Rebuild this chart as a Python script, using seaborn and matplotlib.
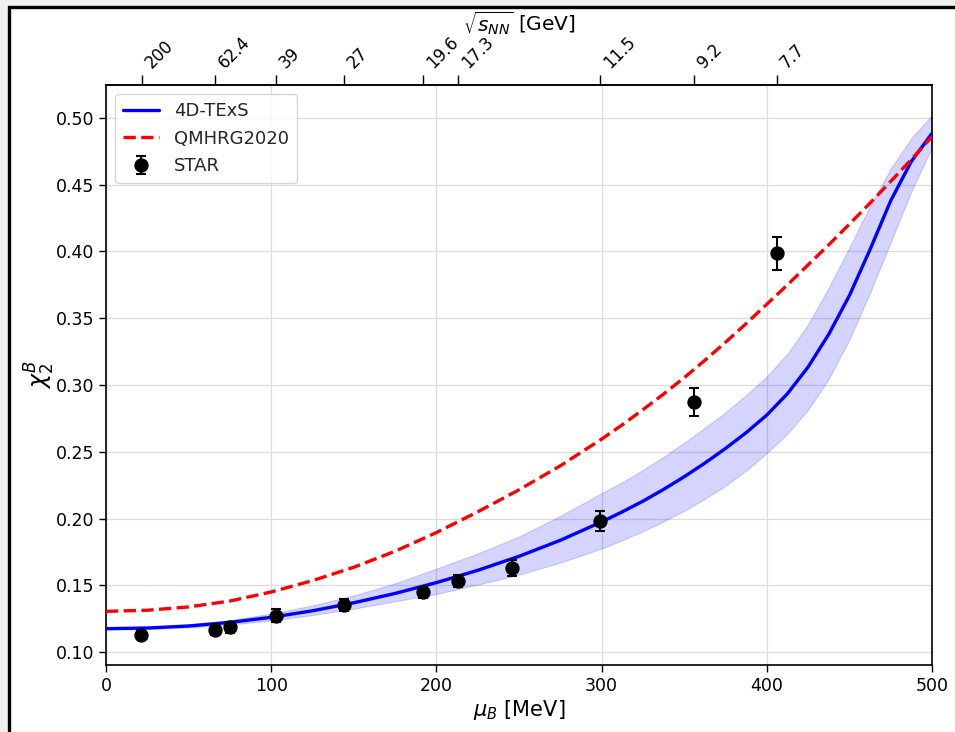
import matplotlib
matplotlib.use("Agg")
import matplotlib.pyplot as plt
import numpy as np
import pandas as pd
import seaborn as sns

# Baryon chemical potential grid (MeV) for the model curves
mu_grid = [0, 25, 50, 75, 100, 125, 150, 175, 200, 225, 250, 275,
           300, 312.5, 325, 337.5, 350, 362.5, 375, 387.5, 400, 412.5,
           425, 437.5, 450, 462.5, 475, 487.5, 500]

# 4D-TExS central curve and its uncertainty band
texs_mid = [0.1175, 0.1180, 0.1195, 0.1222, 0.1260, 0.1309, 0.1369, 0.1439,
            0.1520, 0.1612, 0.1717, 0.1837,
            0.1975, 0.2050, 0.2130, 0.2218, 0.2313, 0.2415, 0.2525, 0.2643,
            0.2775, 0.2935, 0.3135, 0.3380, 0.3670, 0.4015, 0.4380, 0.4675,
            0.4885]
texs_hi = [0.1183, 0.1190, 0.1208, 0.1240, 0.1288, 0.1349, 0.1424, 0.1515,
           0.1625, 0.1738, 0.1865, 0.2020,
           0.2190, 0.2272, 0.2364, 0.2463, 0.2568, 0.2680, 0.2795, 0.2925,
           0.3065, 0.3235, 0.3455, 0.3730, 0.4030, 0.4340, 0.4620, 0.4850,
           0.5020]
texs_lo = [0.1168, 0.1172, 0.1184, 0.1206, 0.1236, 0.1277, 0.1325, 0.1380,
           0.1435, 0.1505, 0.1580, 0.1670,
           0.1775, 0.1838, 0.1905, 0.1978, 0.2058, 0.2147, 0.2245, 0.2360,
           0.2490, 0.2635, 0.2815, 0.3045, 0.3340, 0.3690, 0.4070, 0.4450,
           0.4780]

# QMHRG2020 curve
qmhrg = [0.1305, 0.1313, 0.1338, 0.1382, 0.1450, 0.1535, 0.1635, 0.1755,
         0.1895, 0.2050, 0.2215, 0.2395,
         0.2595, 0.2702, 0.2815, 0.2932, 0.3055, 0.3185, 0.3320, 0.3460,
         0.3605, 0.3750, 0.3900, 0.4050, 0.4205, 0.4363, 0.4525, 0.4690,
         0.4860]

# STAR measurements
star_mu = [21, 66, 75, 103, 144, 192, 213, 246, 299, 356, 406]
star_val = [0.1125, 0.1168, 0.1185, 0.1272, 0.1355, 0.1448, 0.1530, 0.1630,
            0.1985, 0.2875, 0.3985]
star_err = [0.0030, 0.0040, 0.0040, 0.0048, 0.0045, 0.0040, 0.0045, 0.0058,
            0.0075, 0.0105, 0.0120]

# Collision energies on the top axis and their mu_B positions
sqrt_s_labels = ["200", "62.4", "39", "27", "19.6", "17.3", "11.5", "9.2", "7.7"]
sqrt_s_mu = [22, 66, 103, 144, 192, 213, 299, 356, 406]

sns.set_theme(style="ticks")
plt.rcParams["font.family"] = ["DejaVu Sans"]

curves = pd.DataFrame({"mu": mu_grid, "texs": texs_mid, "qmhrg": qmhrg,
                       "hi": texs_hi, "lo": texs_lo})

fig = plt.figure(figsize=(9.55, 7.32), dpi=100)
fig.patch.set_facecolor("#f0f0f0")
frame = plt.Rectangle((8.5 / 955, -0.1), 1.2, 1.1 - 7.0 / 732,
                      transform=fig.transFigure, facecolor="white",
                      edgecolor="black", lw=2.4, zorder=-10)
fig.patches.append(frame)

ax = fig.add_axes([106 / 955, 1 - 665 / 732, 826 / 955, 580 / 732])
ax.set_facecolor("white")

ax.fill_between(curves["mu"], curves["lo"], curves["hi"], color="blue",
                alpha=0.17, lw=0.8, zorder=1)
sns.lineplot(data=curves, x="mu", y="texs", ax=ax, color="blue", lw=2.4,
             label="4D-TExS", zorder=3)
sns.lineplot(data=curves, x="mu", y="qmhrg", ax=ax, color="red", lw=2.4,
             ls=(0, (3.7, 1.6)), label="QMHRG2020", zorder=3)
ax.errorbar(star_mu, star_val, yerr=star_err, fmt="o", color="black",
            ms=9.3, capsize=3.6, elinewidth=1.5, capthick=1.5,
            label="STAR", zorder=4)

ax.set_xlim(0, 500)
ax.set_ylim(0.0903, 0.5247)
ax.set_yticks(np.arange(0.10, 0.501, 0.05))
ax.set_xticks([0, 100, 200, 300, 400, 500])
ax.grid(True, color="#dcdcdc", lw=0.9, zorder=0)
ax.set_axisbelow(True)

for side in ["left", "right", "top", "bottom"]:
    ax.spines[side].set_color("black")
    ax.spines[side].set_linewidth(1.2)

ax.tick_params(axis="both", labelsize=12.5, direction="out", length=5,
               width=1.0, color="black", labelcolor="black")
ax.set_xlabel(r"$\mu_B$ [MeV]", fontsize=15, labelpad=2, color="black")
ax.set_ylabel(r"$\chi_2^B$", fontsize=17, labelpad=-1, color="black")

top = ax.secondary_xaxis("top")
top.set_xticks(sqrt_s_mu)
top.set_xticklabels(sqrt_s_labels, rotation=45, fontsize=12,
                    ha="left", va="bottom", rotation_mode="default")
top.tick_params(direction="out", length=7, width=1.0, pad=2.5,
                color="black", labelcolor="black")
top.set_xlabel(r"$\sqrt{s_{NN}}$ [GeV]", fontsize=14.5, labelpad=1,
               color="black")

leg = ax.legend(loc="upper left", fontsize=13, frameon=True, framealpha=0.8,
                edgecolor="#cccccc", borderpad=0.45, handlelength=2.0,
                labelspacing=0.52, borderaxespad=0.5)
leg.get_frame().set_linewidth(1.0)

fig.savefig("out.png", dpi=100)
